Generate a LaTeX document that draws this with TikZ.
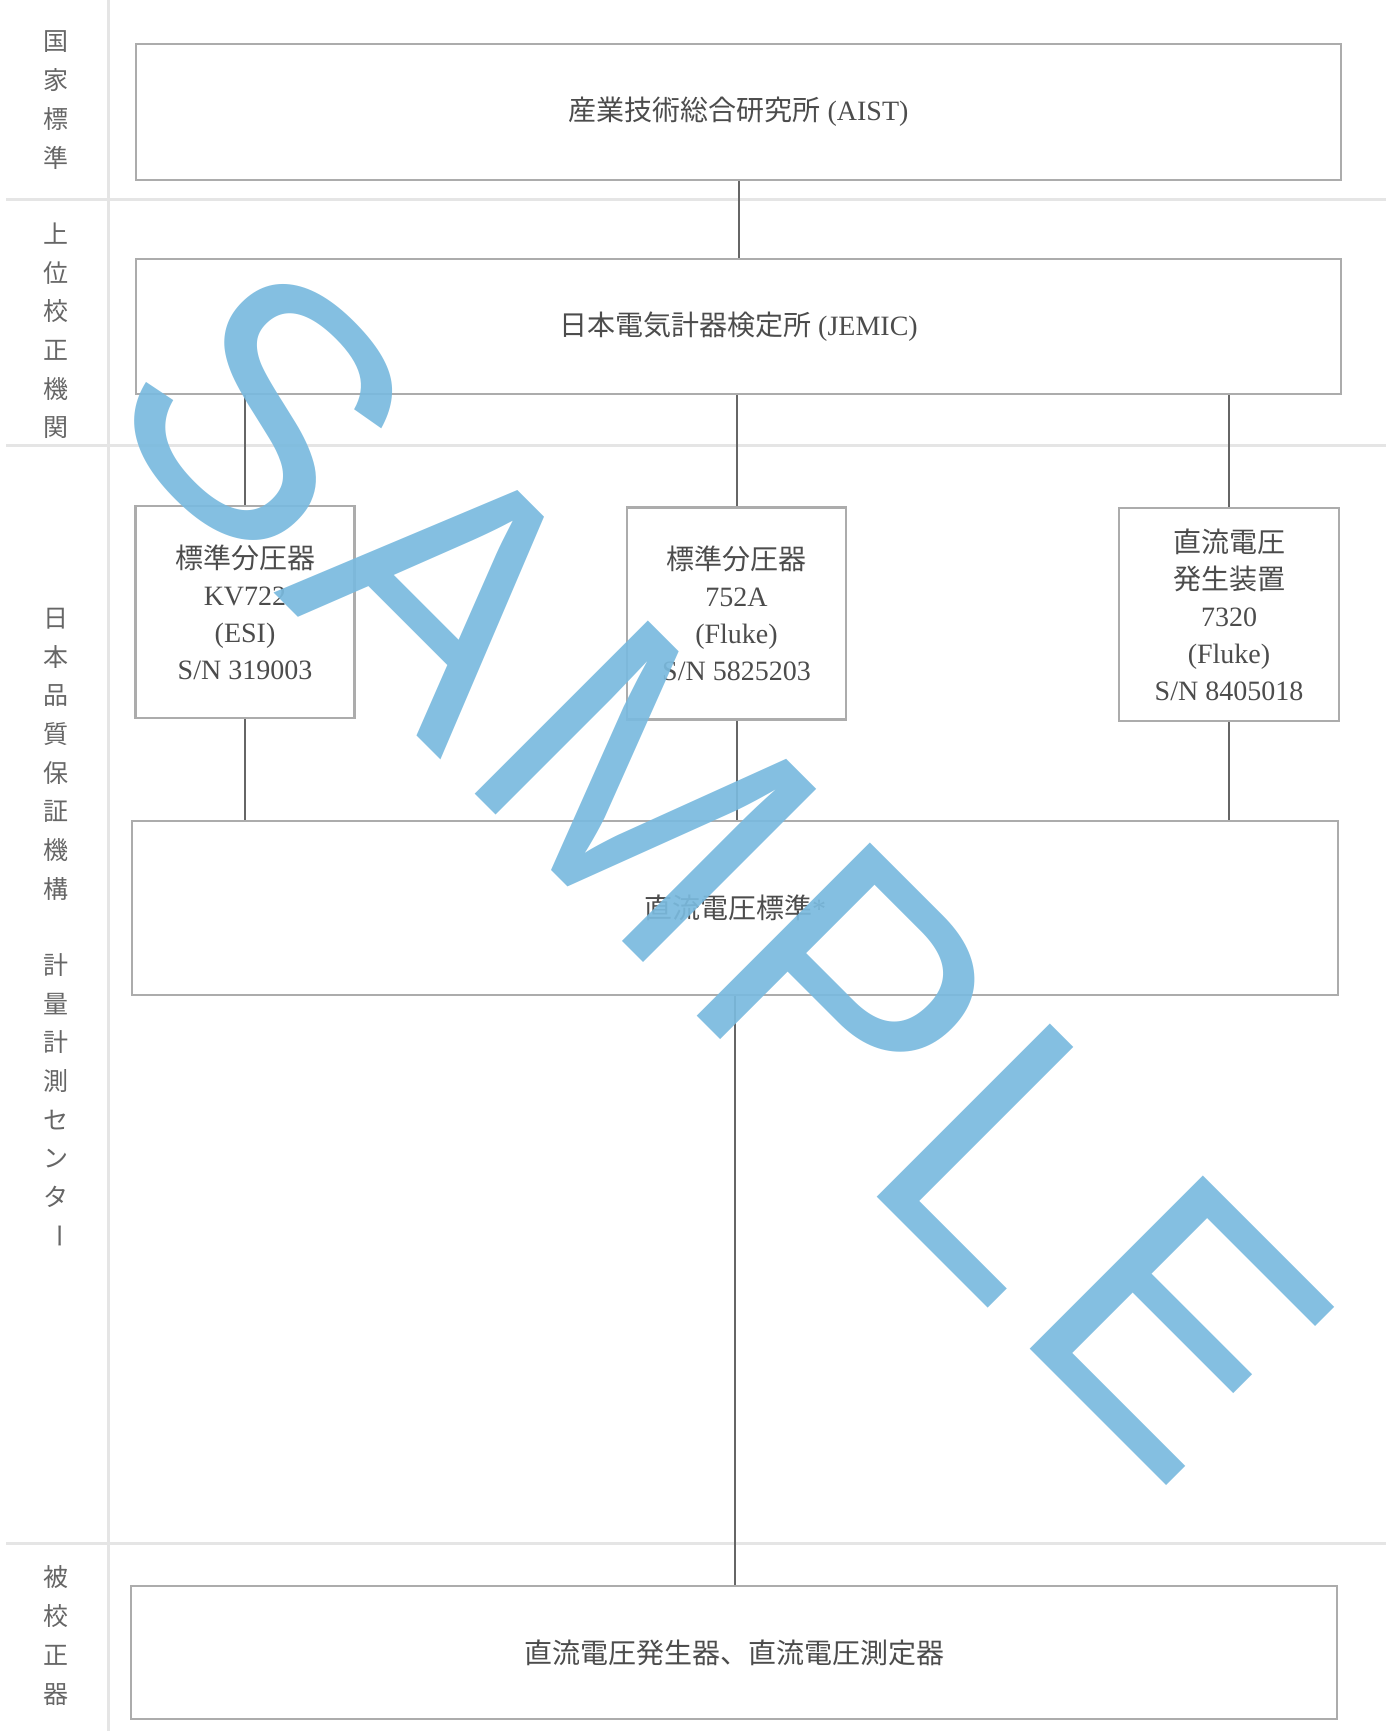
\documentclass[tikz,border=0pt]{standalone}
\usepackage{fontspec}
\setmainfont{Liberation Serif}
\newfontfamily\jpfont{Noto Sans CJK JP}
\newfontfamily\wmfont[LetterSpace=5]{Liberation Sans}
\usetikzlibrary{positioning}
\definecolor{sampleblue}{RGB}{122,186,222}

\begin{document}
\begin{tikzpicture}[
      x=0.5pt, y=-0.5pt,
      band/.style={draw=gray!20, line width=1.5pt},
      conn/.style={draw=black!60, line width=1pt},
      orgbox/.style={draw=gray!65, line width=1.3pt, inner sep=0pt, align=center,
        text=black!70, font=\fontsize{14}{18.5}\selectfont},
      devbox/.style={orgbox, minimum width=219*0.5pt, minimum height=212*0.5pt},
      vlabel/.style={text=black!60, inner sep=0pt, font=\jpfont\fontsize{12.5}{12.5}\selectfont},
      watermark/.style={text=sampleblue, text opacity=0.92, inner sep=0pt,
        font=\wmfont\fontsize{178}{178}\selectfont}
    ]
    \useasboundingbox (0,0) rectangle (1391,1731);

    % bands on the left
    \draw[band] (6,199) -- (1386,199);
    \draw[band] (6,445) -- (1386,445);
    \draw[band] (6,1543) -- (1386,1543);
    \draw[band] (108,0) -- (108,1731);

    \foreach \c [count=\i from 0] in {国,家,標,準}
      \node[vlabel] (nat-\i) at (56,42+38.5*\i) {\c};
    \foreach \c [count=\i from 0] in {上,位,校,正,機,関}
      \node[vlabel] (up-\i) at (56,234+38.7*\i) {\c};
    \foreach \c [count=\i from 0] in {日,本,品,質,保,証,機,構}
      \node[vlabel] (jqa-\i) at (56,619+38.5*\i) {\c};
    \foreach \c [count=\i from 0] in {計,量,計,測,セ,ン,タ,{\rotatebox{-90}{ー}}}
      \node[vlabel] (mc-\i) at (56,965+38.7*\i) {\c};
    \foreach \c [count=\i from 0] in {被,校,正,器}
      \node[vlabel] (dut-\i) at (56,1577+39.3*\i) {\c};

    % boxes
    \node[orgbox, minimum width=1205*0.5pt, minimum height=136*0.5pt] (aist) at (738.5,112)
      {{\jpfont 産業技術総合研究所} (AIST)};
    \node[orgbox, minimum width=1205*0.5pt, minimum height=135*0.5pt] (jemic) at (738.5,326.5)
      {{\jpfont 日本電気計器検定所} (JEMIC)};

    \node[devbox] (kv722) at (245,612)
      {{\jpfont 標準分圧器}\\KV722\\(ESI)\\S/N 319003};
    \node[devbox] (fl752) at (736.5,613.5)
      {{\jpfont 標準分圧器}\\752A\\(Fluke)\\S/N 5825203};
    \node[devbox, minimum width=220*0.5pt, minimum height=213*0.5pt] (dcsrc) at (1229,614.5)
      {{\jpfont 直流電圧}\\{\jpfont 発生装置}\\7320\\(Fluke)\\S/N 8405018};

    \node[orgbox, minimum width=1206*0.5pt, minimum height=174*0.5pt] (dcstd) at (735,908)
      {{\jpfont 直流電圧標準}*};
    \node[orgbox, minimum width=1206*0.5pt, minimum height=133*0.5pt] (dut) at (734,1652.5)
      {\jpfont 直流電圧発生器、直流電圧測定器};

    % connectors
    \draw[conn] (aist.south) -- (jemic.north);
    \draw[conn] (kv722.north |- jemic.south) -- (kv722.north);
    \draw[conn] (fl752.north |- jemic.south) -- (fl752.north);
    \draw[conn] (dcsrc.north |- jemic.south) -- (dcsrc.north);
    \draw[conn] (kv722.south) -- (kv722.south |- dcstd.north);
    \draw[conn] (fl752.south) -- (fl752.south |- dcstd.north);
    \draw[conn] (dcsrc.south) -- (dcsrc.south |- dcstd.north);
    \draw[conn] (dcstd.south) -- (dcstd.south |- dut.north);

    \node[watermark, rotate=-45] (sample) at (722,868) {SAMPLE};
  \end{tikzpicture}
\end{document}
